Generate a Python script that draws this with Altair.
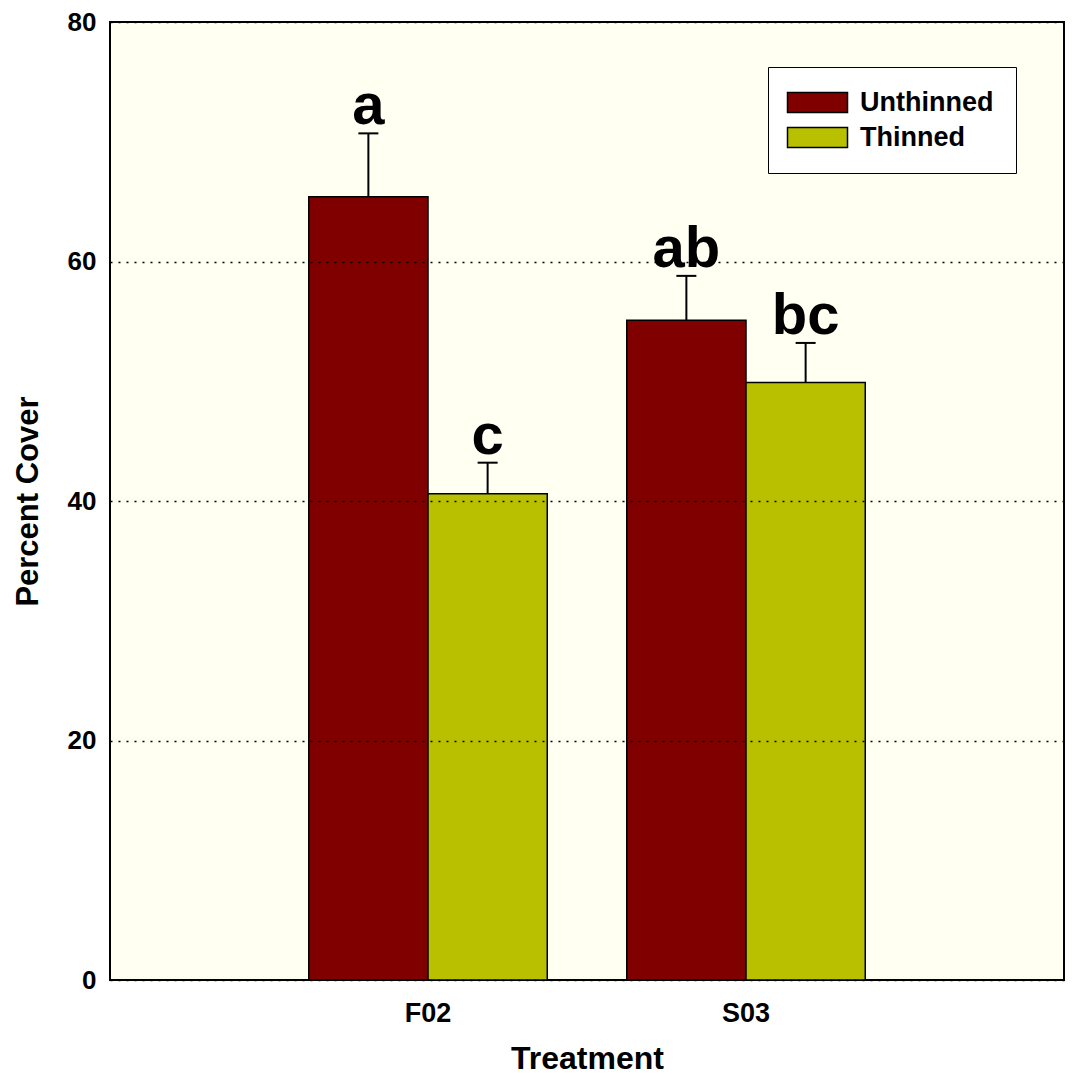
import altair as alt
import pandas as pd

# ---- data ----
treatments = ["F02", "F02", "S03", "S03"]
groups = ["Unthinned", "Thinned", "Unthinned", "Thinned"]
means = [65.4, 40.6, 55.1, 49.9]
upper = [70.7, 43.2, 58.8, 53.2]
letters = ["a", "c", "ab", "bc"]
group_order = ["Unthinned", "Thinned"]
y_ticks = [0, 20, 40, 60, 80]

df = pd.DataFrame({
    "Treatment": treatments,
    "Group": groups,
    "Mean": means,
    "Upper": upper,
    "Letter": letters,
})

FONT = "Liberation Sans"
colors = ["#800000", "#B8C000"]

x = alt.X(
    "Treatment:N",
    scale=alt.Scale(paddingInner=0.25, paddingOuter=0.625),
    axis=alt.Axis(
        title="Treatment", labelAngle=0, ticks=False, domain=False,
        labelFontSize=27, labelFontWeight="bold", labelFont=FONT, labelColor="black",
        labelPadding=20, titleFontSize=32, titleFont=FONT, titleFontWeight="bold",
        titleColor="black", titleY=88, titleBaseline="alphabetic",
    ),
)
xoff = alt.XOffset("Group:N", sort=group_order,
                   scale=alt.Scale(domain=group_order, paddingInner=0, paddingOuter=0))

yscale = alt.Scale(domain=[0, 80], nice=False, zero=True)
yaxis = alt.Axis(
    title="Percent Cover", values=y_ticks, grid=True, gridColor="black",
    gridDash=[2, 6], gridWidth=1.5, ticks=False, domain=False,
    labelFontSize=26, labelFontWeight="bold", labelFont=FONT, labelColor="black",
    labelPadding=14, titleFontSize=31, titleFont=FONT, titleFontWeight="bold",
    titleColor="black", titleX=-73, titleBaseline="alphabetic", zindex=1,
)

color = alt.Color(
    "Group:N",
    sort=group_order,
    scale=alt.Scale(domain=group_order, range=colors),
    legend=alt.Legend(
        title=None, orient="none", legendX=658, legendY=45,
        symbolType="M-3,-1H3V1H-3Z", symbolSize=400,
        symbolStrokeColor="black", symbolStrokeWidth=1.5, symbolOpacity=1,
        symbolOffset=14, labelOffset=29, labelExpr="datum.label + ' '",
        labelFontSize=27, labelFont=FONT, labelFontWeight="bold", labelColor="black",
        padding=22, strokeColor="black", fillColor="white", rowPadding=7,
    ),
)

base = alt.Chart(df)

bars = base.mark_bar(stroke="black", strokeWidth=1.5, opacity=1).encode(
    x=x, xOffset=xoff,
    y=alt.Y("Mean:Q", scale=yscale, axis=yaxis),
    color=color,
)

err = base.mark_rule(color="black", strokeWidth=2).encode(
    x=x, xOffset=xoff,
    y=alt.Y("Mean:Q", scale=yscale, axis=yaxis),
    y2="Upper:Q",
)

caps = base.mark_tick(color="black", thickness=2, size=20, orient="horizontal", opacity=1).encode(
    x=x, xOffset=xoff,
    y=alt.Y("Upper:Q", scale=yscale, axis=yaxis),
)

labels = base.mark_text(
    dy=-9, baseline="alphabetic", align="center", fontSize=58,
    fontWeight="bold", font=FONT, color="black",
).encode(
    x=x, xOffset=xoff,
    y=alt.Y("Upper:Q", scale=yscale, axis=yaxis),
    text="Letter:N",
)

chart = (
    alt.layer(bars, err, caps, labels)
    .properties(
        width=954, height=958,
        padding={"left": 102, "top": 14, "right": 1, "bottom": 95},
        autosize="none",
        background="white",
    )
    .configure_view(stroke="black", strokeWidth=2, fill="#FFFFF2")
)

chart.save("out.html", embed_options={"renderer": "svg", "actions": False})
